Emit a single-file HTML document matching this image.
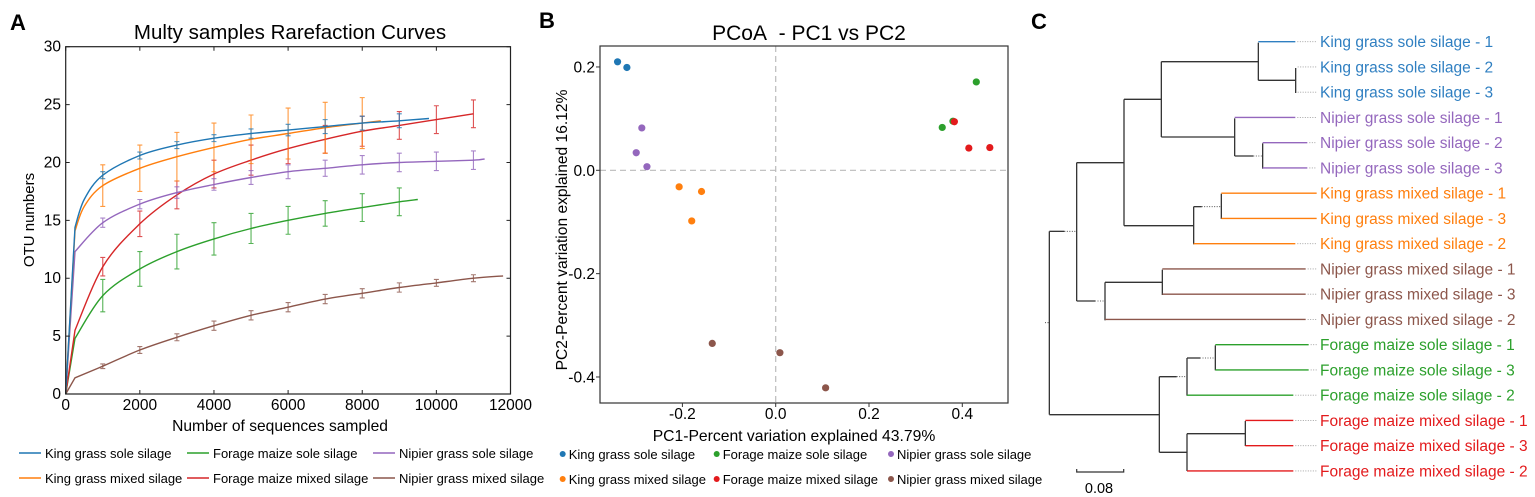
<!DOCTYPE html>
<html><head><meta charset="utf-8"><style>
html,body{margin:0;padding:0;background:#fff}
svg{display:block;font-family:"Liberation Sans",Arial,sans-serif}
</style></head><body>
<svg id="fig" width="1535" height="497" viewBox="0 0 1535 497" xmlns="http://www.w3.org/2000/svg"></svg>
<script>
// ===== Panel A data =====
const rareSeries = ["King grass sole silage","Forage maize sole silage","Nipier grass sole silage","King grass mixed silage","Forage maize mixed silage","Nipier grass mixed silage"];
const rareColors = ["#1f77b4","#2ca02c","#9467bd","#ff7f0e","#d62728","#8c564b"];
const kingSoleX = [0,250,500,1000,2000,3000,4000,5000,6000,7000,8000,9000,9800];
const kingSoleY = [0,14.4,16.8,18.9,20.6,21.5,22.1,22.5,22.8,23.1,23.4,23.6,23.8];
const kingSoleErr = [0,0,0,0.3,0.3,0.3,0.3,0.4,0.5,0.6,0.6,0.6,0];
const maizeSoleX = [0,250,1000,2000,3000,4000,5000,6000,7000,8000,9000,9500];
const maizeSoleY = [0,4.8,8.5,10.8,12.3,13.4,14.3,15.0,15.6,16.1,16.6,16.8];
const maizeSoleErr = [0,0,1.4,1.5,1.5,1.4,1.3,1.2,1.1,1.2,1.2,0];
const nipierSoleX = [0,250,1000,2000,3000,4000,5000,6000,7000,8000,9000,10000,11000,11300];
const nipierSoleY = [0,12.3,14.8,16.4,17.4,18.1,18.7,19.2,19.5,19.8,20.0,20.1,20.2,20.3];
const nipierSoleErr = [0,0,0.4,0.4,0.5,0.5,0.6,0.6,0.7,0.8,0.8,0.8,0.8,0];
const kingMixX = [0,250,500,1000,2000,3000,4000,5000,6000,7000,8000,8500];
const kingMixY = [0,14.1,16.2,18.0,19.5,20.5,21.3,22.0,22.5,23.0,23.4,23.6];
const kingMixErr = [0,0,0,1.8,2.0,2.1,2.1,2.1,2.2,2.2,2.2,0];
const maizeMixX = [0,250,1000,2000,3000,4000,5000,6000,7000,8000,9000,10000,11000];
const maizeMixY = [0,5.5,11.0,14.7,17.2,19.0,20.2,21.2,22.0,22.7,23.2,23.7,24.2];
const maizeMixErr = [0,0,0.8,1.1,1.2,1.2,1.3,1.3,1.2,1.3,1.2,1.2,1.2];
const nipierMixX = [0,250,1000,2000,3000,4000,5000,6000,7000,8000,9000,10000,11000,11800];
const nipierMixY = [0,1.4,2.4,3.8,4.9,5.9,6.8,7.5,8.2,8.7,9.2,9.6,10.0,10.2];
const nipierMixErr = [0,0,0.2,0.3,0.3,0.4,0.4,0.4,0.4,0.4,0.4,0.3,0.3,0];
const rareXTicks = [0,2000,4000,6000,8000,10000,12000];
const rareYTicks = [0,5,10,15,20,25,30];

// ===== Panel B data =====
const pcoaGroups = ["King grass sole silage","Forage maize sole silage","Nipier grass sole silage","King grass mixed silage","Forage maize mixed silage","Nipier grass mixed silage"];
const pcoaColors = ["#1f77b4","#2ca02c","#9467bd","#ff7f0e","#e31a1c","#8c564b"];
const pc1KingSole = [-0.339,-0.319];
const pc2KingSole = [0.210,0.199];
const pc1MaizeSole = [0.430,0.357,0.380];
const pc2MaizeSole = [0.171,0.083,0.095];
const pc1NipierSole = [-0.287,-0.299,-0.276];
const pc2NipierSole = [0.082,0.034,0.007];
const pc1KingMix = [-0.207,-0.159,-0.180];
const pc2KingMix = [-0.032,-0.041,-0.098];
const pc1MaizeMix = [0.383,0.414,0.459];
const pc2MaizeMix = [0.094,0.043,0.044];
const pc1NipierMix = [-0.136,0.009,0.107];
const pc2NipierMix = [-0.335,-0.353,-0.421];
const pcXTicks = [-0.2,0.0,0.2,0.4];
const pcYTicks = [0.2,0.0,-0.2,-0.4];

// ===== Panel C labels =====
const leafLabels = ["King grass sole silage - 1","King grass sole silage - 2","King grass sole silage - 3","Nipier grass sole silage - 1","Nipier grass sole silage - 2","Nipier grass sole silage - 3","King grass mixed silage - 1","King grass mixed silage - 3","King grass mixed silage - 2","Nipier grass mixed silage - 1","Nipier grass mixed silage - 3","Nipier grass mixed silage - 2","Forage maize sole silage - 1","Forage maize sole silage - 3","Forage maize sole silage - 2","Forage maize mixed silage - 1","Forage maize mixed silage - 3","Forage maize mixed silage - 2"];
const leafColors = ["#2f7fc1","#2f7fc1","#2f7fc1","#9467bd","#9467bd","#9467bd","#ff7f0e","#ff7f0e","#ff7f0e","#8c564b","#8c564b","#8c564b","#2ca02c","#2ca02c","#2ca02c","#e31a1c","#e31a1c","#e31a1c"];

const NS="http://www.w3.org/2000/svg";
const svg=document.getElementById('fig');
function mk(tag,attrs,parent){const e=document.createElementNS(NS,tag);for(const k in attrs)e.setAttribute(k,attrs[k]);(parent||svg).appendChild(e);return e;}
function txt(s,attrs,parent){const e=mk('text',attrs,parent);e.textContent=s;return e;}
function smoothPath(pts){
  let d='M'+pts[0][0].toFixed(1)+','+pts[0][1].toFixed(1)+'L'+pts[1][0].toFixed(1)+','+pts[1][1].toFixed(1);
  for(let i=1;i<pts.length-1;i++){
    const p0=pts[Math.max(1,i-1)],p1=pts[i],p2=pts[i+1],p3=pts[Math.min(pts.length-1,i+2)];
    const c1x=p1[0]+(p2[0]-p0[0])/6,c1y=p1[1]+(p2[1]-p0[1])/6;
    const c2x=p2[0]-(p3[0]-p1[0])/6,c2y=p2[1]-(p3[1]-p1[1])/6;
    d+=`C${c1x.toFixed(1)},${c1y.toFixed(1)} ${c2x.toFixed(1)},${c2y.toFixed(1)} ${p2[0].toFixed(1)},${p2[1].toFixed(1)}`;
  }
  return d;
}

// ---------- Panel A ----------
const A={x0:65.7,x1:510.5,y0:394,y1:46.7};
const ax=v=>A.x0+(v/12000)*(A.x1-A.x0);
const ay=v=>A.y0-(v/30)*(A.y0-A.y1);
const gA=mk('g',{});


let t=txt('A',{x:10,y:30,'font-size':22,'font-weight':'bold'},gA);

t=txt('Multy samples Rarefaction Curves',{x:290,y:39,'font-size':20.5,'text-anchor':'middle'},gA);

const sx=[kingSoleX,maizeSoleX,nipierSoleX,kingMixX,maizeMixX,nipierMixX];
const sy=[kingSoleY,maizeSoleY,nipierSoleY,kingMixY,maizeMixY,nipierMixY];
const se=[kingSoleErr,maizeSoleErr,nipierSoleErr,kingMixErr,maizeMixErr,nipierMixErr];
const order=[5,1,4,2,3,0];
order.forEach(i=>{
  const pts=sx[i].map((x,j)=>[ax(x),ay(sy[i][j])]);
  const p=mk('path',{d:smoothPath(pts),fill:'none',stroke:rareColors[i],'stroke-width':1.4},gA);
  
  
  sx[i].forEach((x,j)=>{const e=se[i][j];if(!e)return;
    const X=ax(x);
    const b=mk('path',{d:`M${X},${ay(sy[i][j]-e)}L${X},${ay(sy[i][j]+e)}M${X-2.5},${ay(sy[i][j]-e)}h5M${X-2.5},${ay(sy[i][j]+e)}h5`,stroke:rareColors[i],'stroke-width':1.1,opacity:0.8,fill:'none'},gA);
    
    
  });
});
const frA=mk('rect',{x:A.x0,y:A.y1,width:A.x1-A.x0,height:A.y0-A.y1,fill:'none',stroke:'#222','stroke-width':1.2},gA);

rareXTicks.forEach(v=>{
  mk('path',{d:`M${ax(v)},${A.y0}v-4M${ax(v)},${A.y1}v4`,stroke:'#222'},gA);
  const l=txt(String(v),{x:ax(v),y:410,'font-size':15.5,'text-anchor':'middle'},gA);
  
});
rareYTicks.forEach(v=>{
  mk('path',{d:`M${A.x0},${ay(v)}h4M${A.x1},${ay(v)}h-4`,stroke:'#222'},gA);
  const l=txt(String(v),{x:61,y:ay(v)+5,'font-size':15.5,'text-anchor':'end'},gA);
  
});
t=txt('Number of sequences sampled',{x:280,y:431,'font-size':15.6,'text-anchor':'middle'},gA);

t=txt('OTU numbers',{x:0,y:0,'font-size':15,'text-anchor':'middle',transform:'translate(34,220) rotate(-90)'},gA);

const legAx=[19,187,373], legY=[457,482];
rareSeries.forEach((s,i)=>{
  const c=i%3,r=Math.floor(i/3);
  const g=mk('g',{},gA);
  
  
  mk('line',{x1:legAx[c],x2:legAx[c]+22,y1:legY[r]-4,y2:legY[r]-4,stroke:rareColors[i],'stroke-width':1.4},g);
  txt(s,{x:legAx[c]+26,y:legY[r]+1,'font-size':13},g);
});

// ---------- Panel B ----------
const B={x0:600,x1:1008,y0:403,y1:46};
const bx=v=>775.7+v*466.5;
const by=v=>170.3-v*516.7;
const gB=mk('g',{});


t=txt('B',{x:539,y:28,'font-size':22,'font-weight':'bold'},gB);

t=txt('PCoA\u00a0\u00a0- PC1 vs PC2',{x:809,y:40,'font-size':21,'text-anchor':'middle'},gB);

mk('line',{x1:bx(0),x2:bx(0),y1:B.y1,y2:B.y0,stroke:'#bbb','stroke-dasharray':'6,4','stroke-width':1.2},gB);
mk('line',{x1:B.x0,x2:B.x1,y1:by(0),y2:by(0),stroke:'#bbb','stroke-dasharray':'6,4','stroke-width':1.2},gB);
const frB=mk('rect',{x:B.x0,y:B.y1,width:B.x1-B.x0,height:B.y0-B.y1,fill:'none',stroke:'#333','stroke-width':1.2},gB);

const px=[pc1KingSole,pc1MaizeSole,pc1NipierSole,pc1KingMix,pc1MaizeMix,pc1NipierMix];
const py=[pc2KingSole,pc2MaizeSole,pc2NipierSole,pc2KingMix,pc2MaizeMix,pc2NipierMix];
px.forEach((arr,i)=>arr.forEach((v,j)=>{
  const c=mk('circle',{cx:bx(v),cy:by(py[i][j]),r:3.6,fill:pcoaColors[i]},gB);
  
  
}));
pcXTicks.forEach(v=>{
  mk('line',{x1:bx(v),x2:bx(v),y1:B.y0,y2:B.y0+4,stroke:'#333'},gB);
  const l=txt(v.toFixed(1),{x:bx(v),y:419,'font-size':15.5,'text-anchor':'middle'},gB);
  
});
pcYTicks.forEach(v=>{
  mk('line',{x1:B.x0,x2:B.x0-4,y1:by(v),y2:by(v),stroke:'#333'},gB);
  const l=txt(v.toFixed(1),{x:595,y:by(v)+5.5,'font-size':15.5,'text-anchor':'end'},gB);
  
});
t=txt('PC1-Percent variation explained 43.79%',{x:794,y:441,'font-size':15.7,'text-anchor':'middle'},gB);

t=txt('PC2-Percent variation explained 16.12%',{x:0,y:0,'font-size':15.6,'text-anchor':'middle',transform:'translate(567,230) rotate(-90)'},gB);

const legBx=[562.7,716.7,891];
pcoaGroups.forEach((s,i)=>{
  const c=i%3,r=Math.floor(i/3);
  const g=mk('g',{},gB);
  
  
  mk('circle',{cx:legBx[c],cy:legY[r]-3,r:3,fill:pcoaColors[i]},g);
  txt(s,{x:legBx[c]+6,y:legY[r]+2,'font-size':13},g);
});

// ---------- Panel C ----------
const gC=mk('g',{});


t=txt('C',{x:1031,y:29,'font-size':22,'font-weight':'bold'},gC);

const cx=z=>1020+z/3, cy=z=>z/3;
const ln=(x1,y1,x2,y2,col,dot)=>mk('line',{x1:cx(x1),y1:cy(y1),x2:cx(x2),y2:cy(y2),stroke:col||'#333','stroke-width':dot?0.8:1.3,'stroke-dasharray':dot?'1,1.5':'none'},gC);
const V=[[88,694,1244],[170,488,903],[312,298,677],[424,185,411],[715,128,241],[827,204,279],[644,355,468],[728,430,506],[521,620,733],[604,581,657],[255,847,961],[427,809,885],[418,1130,1357],[501,1074,1187],[586,1036,1111],[501,1301,1413],[676,1263,1338]];
V.forEach(v=>ln(v[0],v[1],v[0],v[2]));
const H=[[88,694,133],[133,694,170,1],[170,488,312],[312,298,424],[424,185,715],[715,241,827],[424,411,644],[644,468,700],[700,468,728,1],[312,677,521],[521,620,545],[545,620,604,1],[170,903,225],[225,903,255,1],[255,847,427],[88,1244,418],[418,1130,470],[470,1130,501,1],[501,1074,540],[540,1074,586,1],[418,1357,501],[501,1301,676],[75,968,88,1]];
H.forEach(h=>ln(h[0],h[1],h[2],h[1],null,h[3]));
const leafStart=[715,827,827,644,728,728,604,604,521,427,427,255,586,586,501,676,676,501];
const leafEnd=[826,827,827,826,862,862,890,890,826,857,857,857,866,866,820,820,820,820];
leafLabels.forEach((s,i)=>{
  const y=125+i*75.75;
  ln(leafStart[i],y,leafEnd[i],y,leafColors[i]);
  if(leafEnd[i]<888) ln(leafEnd[i]+6,y,890,y,'#999',1);
  const l=txt(s,{x:1320,y:y/3+5.5,'font-size':15.5,fill:leafColors[i]},gC);
  
  
});
const sb=mk('path',{d:'M1076.7,469v3h47v-3',stroke:'#333',fill:'none','stroke-width':1.2},gC);

t=txt('0.08',{x:1099,y:493,'font-size':14.5,'text-anchor':'middle'},gC);

</script>
</body></html>
